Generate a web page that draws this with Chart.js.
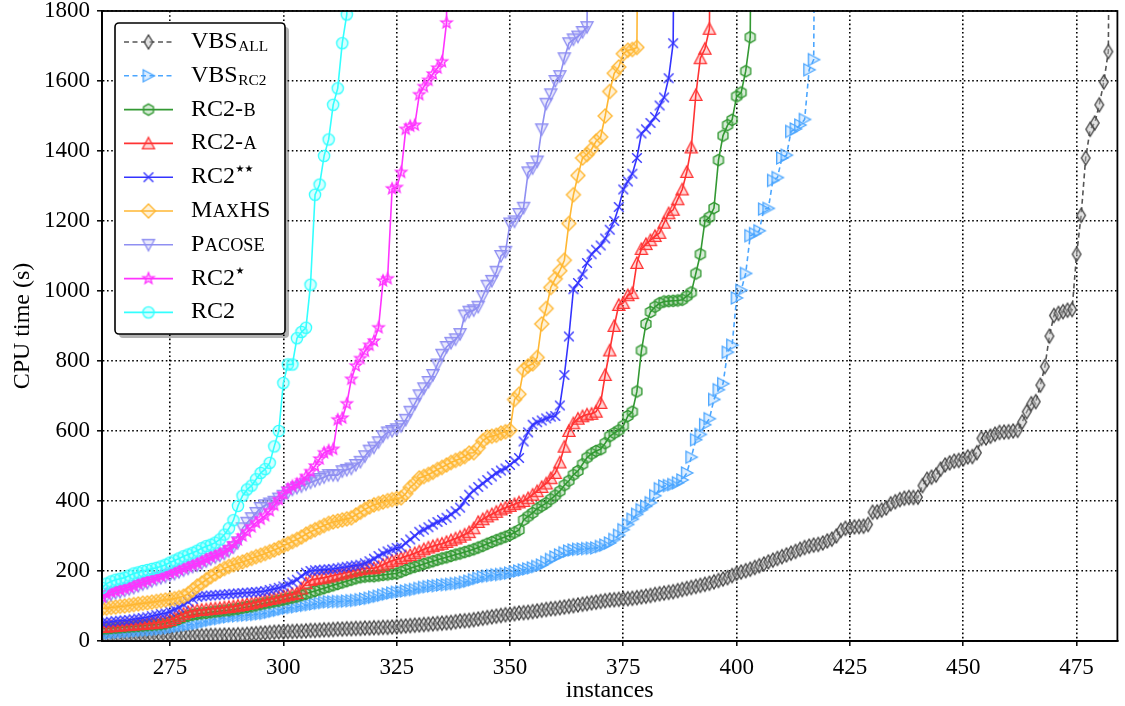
<!DOCTYPE html>
<html>
<head>
<meta charset="utf-8">
<title>CPU time cactus plot</title>
<script src="https://cdn.jsdelivr.net/npm/chart.js@4.4.1/dist/chart.umd.min.js"></script>
<style>
  html, body { margin: 0; padding: 0; background: #fff; }
  canvas { display: block; }
</style>
</head>
<body>
<canvas id="cactus" width="1125" height="706"></canvas>
<script>
// first instance index visible on the x axis, every array below starts there
var firstInstance = 260;
// runs that go past the top of the axis (timeouts), so the line leaves the plot
var offScale = 3600;

var vbsAll = [8,8,9,9,9,10,10,10,11,11,11,12,12,12,12,13,13,13,14,14,
  14,15,15,15,16,16,16,17,17,17,18,18,19,20,21,22,23,24,25,26,
  26,27,27,28,28,29,30,30,31,32,32,33,34,34,35,35,36,36,37,37,
  38,38,39,39,40,41,42,43,44,45,46,47,48,49,50,51,52,53,55,57,
  58,59,61,63,65,67,69,71,73,75,76,78,80,81,82,84,86,88,90,92,
  93,95,97,99,101,103,105,107,109,111,113,115,117,118,119,120,121,122,124,126,
  128,130,133,135,137,139,141,144,147,150,153,156,159,162,165,169,173,177,181,187,
  193,197,201,205,210,215,220,226,231,236,241,246,251,256,262,267,271,274,276,280,
  286,291,300,316,322,323,326,327,328,333,368,369,374,380,392,398,404,408,410,410,
  411,444,462,468,474,491,503,509,514,516,520,526,527,538,579,580,585,591,596,597,
  598,600,602,626,655,678,684,731,784,871,930,936,941,945,947,1105,1216,1380,1462,1480,1532,1597,1684];

var vbsRc2 = [21,22,23,24,25,26,27,28,29,30,31,32,33,35,36,38,40,42,44,46,
  48,50,53,56,59,62,64,67,69,71,72,73,74,75,76,78,79,82,85,88,
  91,94,96,98,100,102,104,106,108,110,112,112,113,113,114,115,116,118,120,122,
  125,128,131,134,137,139,141,143,145,147,150,153,155,157,158,160,161,162,164,165,
  168,171,175,179,183,185,187,189,190,192,194,197,200,203,206,209,213,217,225,233,
  240,246,252,257,260,262,263,264,265,266,270,274,280,290,302,318,333,348,362,375,
  385,395,415,435,443,444,447,452,460,480,525,575,590,618,635,690,718,735,825,845,
  980,1002,1050,1158,1164,1172,1234,1236,1316,1324,1380,1388,1456,1463,1474,1490,1632,1661];

var rc2B = [35,36,37,38,39,40,41,42,43,44,45,46,47,48,50,54,58,63,68,72,
  75,77,79,80,82,84,85,87,88,90,92,95,97,99,102,105,108,110,113,115,
  118,121,124,127,131,135,139,143,147,151,155,159,163,167,171,175,179,182,184,185,
  185,187,189,190,192,193,198,203,208,212,216,220,224,228,232,236,239,243,247,250,
  254,258,262,267,272,278,283,288,293,298,303,310,317,346,356,366,378,386,394,405,
  416,428,445,458,475,486,505,524,535,543,548,565,585,594,602,615,643,655,713,830,
  906,940,955,965,970,971,972,973,975,985,996,1050,1105,1199,1211,1237,1374,1444,1474,1489,
  1556,1567,1628,1725];

var rc2A = [40,41,42,43,44,45,46,47,48,49,50,51,52,54,56,60,66,72,78,83,
  86,88,89,90,92,93,94,96,97,99,101,103,106,108,111,114,117,120,122,125,
  128,131,134,137,150,165,174,177,179,181,184,187,190,193,196,199,202,205,208,208,
  208,212,218,224,229,233,237,242,246,251,256,262,267,271,275,278,283,288,293,298,
  304,311,322,340,348,356,362,369,376,381,386,391,396,400,408,418,428,440,450,465,
  480,510,555,600,622,635,642,647,649,655,680,760,830,900,960,966,988,994,1080,1120,
  1134,1145,1157,1166,1195,1222,1232,1262,1290,1340,1410,1560,1665,1692,1749];

var rc2StarStar = [52,54,55,57,58,59,60,62,64,66,68,71,74,77,79,84,90,96,104,112,
  120,126,128,129,130,131,132,133,134,135,136,137,138,139,140,141,143,146,149,152,
  156,162,168,175,185,195,200,202,203,204,205,206,208,210,212,214,216,218,222,228,
  235,243,250,256,261,266,268,280,290,300,312,318,325,333,340,346,352,362,371,381,
  400,418,430,440,450,460,470,480,487,493,503,514,523,570,596,618,625,630,636,641,
  643,673,760,870,1005,1023,1048,1080,1105,1118,1130,1150,1175,1200,1240,1290,1313,1335,1380,1450,
  1462,1480,1497,1530,1553,1608,1708];

var maxHS = [92,94,96,97,99,100,102,104,106,108,109,111,113,115,117,119,121,124,128,135,
  146,157,165,175,184,192,200,207,213,218,222,226,231,236,241,245,250,255,260,266,
  272,278,284,290,297,305,312,318,324,330,336,340,343,346,349,352,360,368,376,383,
  389,393,397,401,404,407,409,421,439,450,466,470,476,482,490,496,503,510,516,521,
  527,537,538,552,572,582,585,588,594,598,602,690,705,775,786,792,810,906,950,1010,
  1035,1058,1088,1193,1275,1330,1380,1390,1405,1428,1440,1500,1570,1622,1640,1678,1688,1690,1696];

var pacose = [120,128,133,137,140,144,148,152,157,162,166,171,176,180,184,188,192,197,202,207,
  212,216,222,228,234,239,244,250,258,268,282,322,338,351,366,380,388,393,398,407,
  415,424,433,438,442,448,453,458,463,468,474,474,474,485,489,493,503,512,528,544,
  553,568,585,596,600,605,614,632,655,678,702,722,740,760,790,818,840,852,862,877,
  930,941,945,955,985,1015,1029,1055,1100,1112,1193,1199,1220,1238,1339,1351,1370,1462,1535,1562,
  1600,1614,1665,1708,1719,1727,1740,1754];

var rc2Star = [126,135,140,143,146,150,154,158,164,168,172,177,182,186,190,194,198,203,208,213,
  218,222,228,234,240,245,250,256,266,277,289,300,312,326,338,348,358,372,388,404,
  420,434,442,448,458,470,484,500,520,538,544,548,632,637,678,748,786,807,828,845,
  857,895,1029,1035,1292,1296,1339,1462,1471,1474,1561,1584,1602,1620,1637,1655,1766];

var rc2 = [152,164,170,175,178,181,187,193,196,200,203,206,209,213,218,224,230,236,242,247,
  252,258,265,271,275,281,290,304,322,345,386,415,433,444,462,480,491,509,556,600,
  737,790,790,865,883,895,1018,1275,1304,1386,1433,1532,1579,1708,1790];

var xMin = 260, xMax = 484, xStep = 25;
var yMin = 0, yMax = 1800, yStep = 200;

var serif = "'Liberation Serif', 'Times New Roman', serif";

function toPoints(vals) {
  var pts = vals.map(function (v, i) { return {x: firstInstance + i, y: v}; });
  pts.push({x: firstInstance + vals.length, y: offScale});
  return pts;
}

function rgba(hex, a) {
  var n = parseInt(hex.slice(1), 16);
  return 'rgba(' + (n >> 16) + ',' + ((n >> 8) & 255) + ',' + (n & 255) + ',' + a + ')';
}

// small canvases used as point styles (matplotlib-like markers)
function marker(shape, edge, face) {
  var s = 22, c = document.createElement('canvas');
  c.width = s; c.height = s;
  var g = c.getContext('2d');
  g.translate(s / 2, s / 2);
  g.strokeStyle = edge;
  g.fillStyle = face;
  g.lineWidth = 1.35;
  g.beginPath();
  var k, a, r;
  if (shape === 'circle') {
    g.arc(0, 0, 5.6, 0, Math.PI * 2);
  } else if (shape === 'hex') {
    for (k = 0; k < 6; k++) {
      a = -Math.PI / 2 + k * Math.PI / 3;
      g.lineTo(5.7 * Math.cos(a), 5.7 * Math.sin(a));
    }
    g.closePath();
  } else if (shape === 'up') {
    g.moveTo(0, -6); g.lineTo(6, 5.3); g.lineTo(-6, 5.3); g.closePath();
  } else if (shape === 'down') {
    g.moveTo(0, 6); g.lineTo(6, -5.3); g.lineTo(-6, -5.3); g.closePath();
  } else if (shape === 'right') {
    g.moveTo(6, 0); g.lineTo(-5.3, 6); g.lineTo(-5.3, -6); g.closePath();
  } else if (shape === 'diamond') {
    g.moveTo(0, -7); g.lineTo(7, 0); g.lineTo(0, 7); g.lineTo(-7, 0); g.closePath();
  } else if (shape === 'thin') {
    g.moveTo(0, -7); g.lineTo(4.3, 0); g.lineTo(0, 7); g.lineTo(-4.3, 0); g.closePath();
  } else if (shape === 'star') {
    for (k = 0; k < 10; k++) {
      r = k % 2 ? 2.5 : 5.9;
      a = -Math.PI / 2 + k * Math.PI / 5;
      g.lineTo(r * Math.cos(a), r * Math.sin(a));
    }
    g.closePath();
  } else if (shape === 'x') {
    g.moveTo(-4.8, -4.8); g.lineTo(4.8, 4.8);
    g.moveTo(4.8, -4.8); g.lineTo(-4.8, 4.8);
  }
  if (shape !== 'x') g.fill();
  g.stroke();
  return c;
}

// legend order (top to bottom); the chart draws them reversed so RC2 ends up on top
var series = [
  {data: vbsAll, color: '#555555', edge: '#444444', face: 'rgba(190,190,190,0.45)', shape: 'thin', dash: [5, 3.5],
   text: [['VBS', 1, 0], ['ALL', 0.64, 3]]},
  {data: vbsRc2, color: '#4ba6ff', shape: 'right', dash: [5, 3.5],
   text: [['VBS', 1, 0], ['RC2', 0.64, 3]]},
  {data: rc2B, color: '#339933', shape: 'hex',
   text: [['RC2-', 1, 0], ['B', 0.76, 0]]},
  {data: rc2A, color: '#ff3333', shape: 'up',
   text: [['RC2-', 1, 0], ['A', 0.76, 0]]},
  {data: rc2StarStar, color: '#3333ff', shape: 'x',
   text: [['RC2', 1, 0], ['\u2605\u2605', 'star', -11]]},
  {data: maxHS, color: '#ffb733', shape: 'diamond',
   text: [['M', 1, 0], ['AX', 0.76, 0], ['HS', 1, 0]]},
  {data: pacose, color: '#8f8ff2', shape: 'down',
   text: [['P', 1, 0], ['ACOSE', 0.76, 0]]},
  {data: rc2Star, color: '#ff33ff', shape: 'star',
   text: [['RC2', 1, 0], ['\u2605', 'star', -11]]},
  {data: rc2, color: '#33ffff', shape: 'circle',
   text: [['RC2', 1, 0]]}
];

series.forEach(function (s) {
  s.img = marker(s.shape, s.edge || s.color, s.face || rgba(s.color, 0.2));
});

var framePlugin = {
  id: 'frame',
  afterDatasetsDraw: function (chart) {
    var a = chart.chartArea, ctx = chart.ctx;
    ctx.save();
    ctx.strokeStyle = '#000';
    ctx.lineWidth = 1.8;
    ctx.strokeRect(a.left, a.top, a.right - a.left, a.bottom - a.top);
    ctx.restore();
  }
};

var boxLegend = {
  id: 'boxLegend',
  afterDraw: function (chart) {
    var a = chart.chartArea, ctx = chart.ctx;
    var bx = a.left + 13, by = a.top + 12, bw = 170, bh = 311;
    ctx.save();
    ctx.fillStyle = 'rgba(0,0,0,0.3)';
    ctx.beginPath(); ctx.roundRect(bx + 4, by + 4, bw, bh, 4); ctx.fill();
    ctx.fillStyle = '#fff';
    ctx.beginPath(); ctx.roundRect(bx, by, bw, bh, 4); ctx.fill();
    ctx.strokeStyle = '#000'; ctx.lineWidth = 1.6; ctx.stroke();

    series.forEach(function (s, i) {
      var y = by + 19 + i * 33.8;
      ctx.strokeStyle = s.color;
      ctx.lineWidth = 1.6;
      ctx.setLineDash(s.dash || []);
      ctx.beginPath(); ctx.moveTo(bx + 9, y); ctx.lineTo(bx + 58, y); ctx.stroke();
      ctx.setLineDash([]);
      ctx.drawImage(s.img, bx + 33.5 - s.img.width / 2, y - s.img.height / 2);

      var tx = bx + 76, base = y + 6;
      ctx.fillStyle = '#000';
      ctx.textBaseline = 'alphabetic';
      ctx.textAlign = 'left';
      s.text.forEach(function (p) {
        ctx.font = p[1] === 'star' ? "10px 'DejaVu Sans'" : (24 * p[1]) + 'px ' + serif;
        ctx.fillText(p[0], tx, base + p[2]);
        tx += ctx.measureText(p[0]).width + (p[1] === 'star' ? 0 : 0.5);
      });
    });
    ctx.restore();
  }
};

var tickFont = {family: serif, size: 23};
var titleFont = {family: serif, size: 24};

new Chart(document.getElementById('cactus'), {
  type: 'line',
  data: {
    datasets: series.slice().reverse().map(function (s) {
      return {
        data: toPoints(s.data),
        borderColor: s.color,
        borderWidth: 1.6,
        borderDash: s.dash || [],
        pointStyle: s.img,
        pointRadius: 6,
        pointHoverRadius: 6,
        fill: false,
        tension: 0,
        clip: 0
      };
    })
  },
  options: {
    responsive: false,
    animation: false,
    events: [],
    layout: {padding: {top: 11, right: 3, left: 0, bottom: 0}},
    plugins: {legend: {display: false}, tooltip: {enabled: false}},
    scales: {
      x: {
        type: 'linear', min: xMin, max: xMax,
        ticks: {stepSize: xStep, includeBounds: false, color: '#000', font: tickFont, padding: 8, maxRotation: 0,
                callback: function (v) { return String(v); }},
        grid: {color: '#000', lineWidth: 1.6, drawTicks: true, tickLength: 5, tickColor: '#000', tickWidth: 1.5},
        border: {display: true, color: '#000', width: 1.8, dash: [1.6, 2.6]},
        title: {display: true, text: 'instances', color: '#000', font: titleFont, padding: {top: 0, bottom: 1}},
        afterFit: function (sc) { sc.height = 65; sc.paddingLeft = 0; sc.paddingRight = 0; }
      },
      y: {
        type: 'linear', min: yMin, max: yMax,
        ticks: {stepSize: yStep, color: '#000', font: tickFont, padding: 7,
                callback: function (v) { return String(v); }},
        grid: {color: '#000', lineWidth: 1.6, drawTicks: true, tickLength: 5, tickColor: '#000', tickWidth: 1.5},
        border: {display: true, color: '#000', width: 1.8, dash: [1.6, 2.6]},
        title: {display: true, text: 'CPU time (s)', color: '#000', font: titleFont, padding: {top: 8, bottom: 0}},
        afterFit: function (sc) { sc.width = 102; sc.paddingTop = 0; sc.paddingBottom = 0; }
      }
    }
  },
  plugins: [framePlugin, boxLegend]
});
</script>
</body>
</html>
